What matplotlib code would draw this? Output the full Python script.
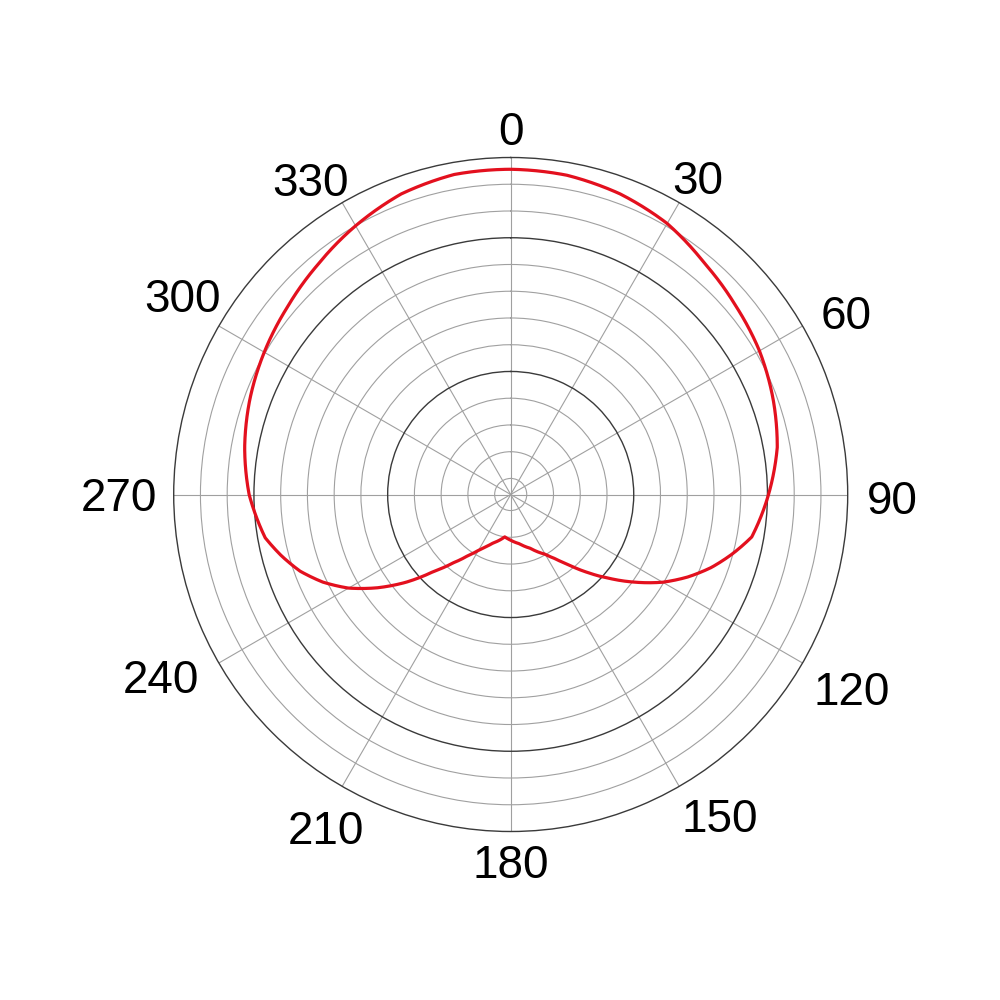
import numpy as np
import matplotlib
matplotlib.use("Agg")
import matplotlib.pyplot as plt
from matplotlib.path import Path
from matplotlib.patches import PathPatch

# ---- data ----
angle_deg = [0, 10, 20, 30, 40, 50, 60, 70, 80, 90, 100, 105, 110, 115, 120, 125,
             130, 135, 140, 145, 150, 160, 170, 180, 188, 200, 205, 210, 215, 220,
             225, 230, 235, 240, 245, 250, 255, 260, 270, 280, 290, 300, 310, 320,
             330, 340, 350]
level = [11.56, 11.52, 11.36, 11.10, 10.68, 10.38, 10.14, 9.84, 9.52, 9.04,
         8.55, 7.98, 7.38, 6.70, 5.96, 5.12, 4.30, 3.55, 2.87, 2.34,
         1.98, 1.54, 1.27, 1.11, 1.00, 1.33, 1.54, 1.81, 2.19, 2.73,
         3.46, 4.50, 5.48, 6.40, 7.15, 7.78, 8.27, 8.72, 9.18, 9.50,
         9.78, 10.04, 10.30, 10.62, 11.00, 11.36, 11.55]
theta_ticks = [0, 30, 60, 90, 120, 150, 180, 210, 240, 270, 300, 330]
theta_labels = [str(t) for t in theta_ticks]
r_grid = list(range(0, 12))
r_major = [4, 9]
r_min, r_max = -0.6, 12

# layout of the angle labels (label centre: direction in degrees, distance in px)
label_dir = [0, 30.5, 61.5, 90.5, 119.7, 147, 180, 209, 242.5, 270, 301.2, 327.6]
label_dist = [366, 368, 381.5, 382, 392, 383, 367.5, 381, 394, 392, 384, 373]

plt.rcParams['font.family'] = ['Liberation Sans', 'DejaVu Sans']

fig = plt.figure(figsize=(10, 10), dpi=100)
ax = fig.add_axes([0.1737, 0.1685, 0.674, 0.674], projection='polar')
ax.set_theta_zero_location('N')
ax.set_theta_direction(-1)
ax.set_ylim(r_min, r_max)

ax.set_rticks(r_grid)
ax.set_yticklabels([])
ax.set_thetagrids(theta_ticks, labels=[''] * len(theta_ticks))
ax.tick_params(axis='both', length=0)
ax.grid(True, color='#a0a0a0', linewidth=0.8)
for r, gl in zip(r_grid, ax.yaxis.get_gridlines()):
    if r in r_major:
        gl.set_color('#3a3a3a')
        gl.set_linewidth(1.0)
ax.spines['polar'].set_color('#3a3a3a')
ax.spines['polar'].set_linewidth(1.0)

# pattern curve: a polar path whose segments the polar transform draws as curves
th = np.deg2rad(angle_deg + [angle_deg[0] + 360])
rv = level + [level[0]]
curve = Path(np.column_stack([th, rv]), _interpolation_steps=40)
ax.add_patch(PathPatch(curve, facecolor='none', edgecolor='#e3101e',
                       linewidth=2.3, joinstyle='round', zorder=5,
                       transform=ax.transData))

fs = 33
em = fs * 100 / 72.0
h = 0.716 * em
for lab, d_ang, dist in zip(theta_labels, label_dir, label_dist):
    a = np.deg2rad(d_ang)
    ax.annotate(lab, xy=(0, r_min), xycoords='data',
                xytext=(dist * np.sin(a), dist * np.cos(a) - h / 2),
                textcoords='offset pixels',
                ha='center', va='baseline', fontsize=fs, color='black',
                annotation_clip=False)

fig.savefig('out.png', dpi=100, facecolor='white')
